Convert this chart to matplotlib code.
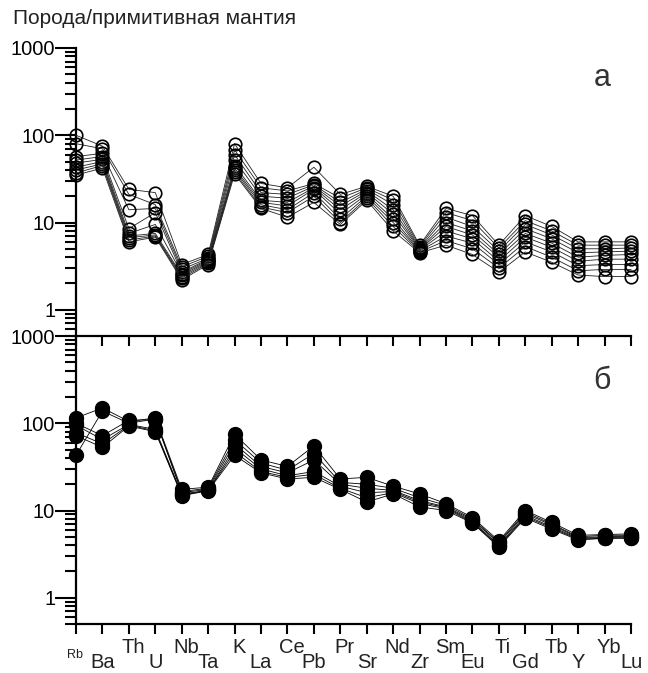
import matplotlib
matplotlib.use("Agg")
import matplotlib.pyplot as plt
from matplotlib.ticker import LogLocator, NullFormatter, FixedLocator

plt.rcParams['font.family'] = ['Liberation Sans', 'DejaVu Sans']

elements = ['Rb', 'Ba', 'Th', 'U', 'Nb', 'Ta', 'K', 'La', 'Ce', 'Pb', 'Pr',
            'Sr', 'Nd', 'Zr', 'Sm', 'Eu', 'Ti', 'Gd', 'Tb', 'Y', 'Yb', 'Lu']

# panel a - open circles, one list per sample
a1 = [100, 75, 24, 22, 3.3, 4.3, 80, 28, 25, 43, 21, 26, 20, 5.5, 14.5, 12, 5.5, 12, 9, 6, 6, 6]
a2 = [80, 70, 21, 16, 3.1, 4.1, 68, 25, 23, 28, 19, 25, 18, 5.3, 13, 10.5, 5.1, 10.5, 8, 5.5, 5.5, 5.5]
a3 = [57, 62, 14, 14.5, 2.9, 3.9, 60, 22, 21, 27, 17, 24, 16, 5.1, 11.5, 9, 4.7, 9.5, 7.2, 5, 5, 5.1]
a4 = [52, 57, 8.5, 13, 2.7, 3.8, 52, 20, 19, 26, 15.5, 23, 14, 5.0, 10, 8, 4.3, 8.5, 6.5, 4.5, 4.6, 4.7]
a5 = [48, 53, 7.5, 9.5, 2.6, 3.7, 45, 18, 17, 25, 14, 22, 12.5, 4.9, 9, 7.2, 4, 7.5, 5.8, 4, 4.2, 4.3]
a6 = [43, 50, 7, 7.5, 2.5, 3.6, 42, 17, 15.5, 24, 12.5, 21, 11, 4.8, 8, 6.5, 3.6, 6.8, 5.2, 3.6, 3.8, 3.8]
a7 = [40, 47, 6.7, 7.2, 2.4, 3.5, 40, 16, 14, 22, 11, 20, 10, 4.7, 7, 5.8, 3.3, 6, 4.6, 3.2, 3.3, 3.3]
a8 = [37, 45, 6.3, 7, 2.3, 3.4, 38, 15, 13, 20, 10, 19, 9, 4.6, 6.2, 5, 3, 5.3, 4, 2.8, 2.9, 2.9]
a9 = [35, 42, 6, 6.8, 2.2, 3.3, 36, 14.5, 11.5, 17, 9.5, 18, 8, 4.5, 5.5, 4.3, 2.7, 4.6, 3.5, 2.5, 2.4, 2.4]

# panel b - filled circles
b1 = [115, 150, 105, 115, 17.5, 18.5, 75, 38, 32, 55, 23, 24, 19, 15.5, 12, 8.3, 4.5, 10, 7.3, 5.2, 5.3, 5.4]
b2 = [43, 138, 100, 112, 16.5, 18, 65, 35, 29, 45, 21, 20, 18, 14, 11.5, 8, 4.3, 9.6, 7, 5.0, 5.2, 5.2]
b3 = [100, 72, 108, 110, 16, 17.5, 58, 32, 27, 38, 20, 18, 17, 13, 11, 7.8, 4.2, 9.2, 6.8, 4.9, 5.0, 5.1]
b4 = [95, 65, 97, 85, 15.5, 17, 52, 30, 25, 28, 19, 16, 16.5, 12.5, 10.8, 7.5, 4.0, 8.8, 6.5, 4.8, 4.9, 5.0]
b5 = [78, 58, 95, 82, 15, 17, 47, 28, 24, 26, 18, 14, 16, 12, 10.5, 7.3, 3.9, 8.5, 6.3, 4.7, 4.8, 4.9]
b6 = [72, 53, 93, 80, 14.8, 16.8, 43, 27, 23, 24, 17.5, 12.5, 15.5, 11, 10, 7.2, 3.8, 8.2, 6.1, 4.6, 4.8, 4.8]

samples_a = [a1, a2, a3, a4, a5, a6, a7, a8, a9]
samples_b = [b1, b2, b3, b4, b5, b6]

x = list(range(len(elements)))

fig = plt.figure(figsize=(6.48, 6.73), dpi=100)
ax1 = fig.add_axes([0.1173, 0.5007, 0.8565, 0.428])
ax2 = fig.add_axes([0.1173, 0.0728, 0.8565, 0.4279])

for s in samples_a:
    ax1.plot(x, s, color='#222222', lw=0.6, marker='o', ms=9, mfc='none',
             mec='black', mew=1.2, clip_on=False, zorder=3)
for s in samples_b:
    ax2.plot(x, s, color='black', lw=0.6, marker='o', ms=10, mfc='black',
             mec='black', clip_on=False, zorder=3)

for ax in (ax1, ax2):
    ax.set_yscale('log')
    ax.set_ylim(0.5, 1000)
    ax.set_xlim(0, 21)
    ax.yaxis.set_major_locator(FixedLocator([1, 10, 100, 1000]))
    ax.yaxis.set_minor_locator(LogLocator(base=10, subs=range(2, 10)))
    ax.yaxis.set_minor_formatter(NullFormatter())
    ax.set_yticklabels(['1', '10', '100', '1000'])
    ax.tick_params(axis='y', which='major', direction='out', length=15, width=1.5,
                   labelsize=14.5, pad=0)
    ax.tick_params(axis='y', which='minor', direction='out', length=8, width=1.5)
    ax.spines['left'].set_linewidth(1.6)
    ax.spines['right'].set_visible(False)

ax1.spines['top'].set_visible(False)
ax1.spines['bottom'].set_visible(False)
ax1.set_xticks([])

ax2.spines['top'].set_visible(False)
ax2.spines['bottom'].set_linewidth(1.6)
ax2.set_xticks(x)
ax2.set_xticklabels([])
ax2.tick_params(axis='x', direction='out', length=7.5, width=1.5)

top = ax2.secondary_xaxis('top')
top.set_xticks(x)
top.set_xticklabels([])
top.tick_params(axis='x', direction='in', length=7.5, width=1.5)
top.spines['top'].set_linewidth(1.6)

# staggered element labels below the axis
for i, el in enumerate(elements):
    if i == 0:
        ax2.annotate(el, (i, 0), xycoords=('data', 'axes fraction'),
                     xytext=(-1, -22), textcoords='offset points',
                     ha='center', va='center', fontsize=9, color='#222222')
    elif i % 2 == 0:
        ax2.annotate(el, (i, 0), xycoords=('data', 'axes fraction'),
                     xytext=(3, -17), textcoords='offset points',
                     ha='center', va='center', fontsize=14.5, color='#222222')
    else:
        ax2.annotate(el, (i, 0), xycoords=('data', 'axes fraction'),
                     xytext=(0, -27.5), textcoords='offset points',
                     ha='center', va='center', fontsize=14.5, color='#222222')

ax1.text(0.948, 0.895, 'а', transform=ax1.transAxes, fontsize=22,
         color='#333333', ha='center', va='center')
ax2.text(0.948, 0.845, 'б', transform=ax2.transAxes, fontsize=22,
         color='#333333', ha='center', va='center')

fig.text(0.02, 0.972, 'Порода/примитивная мантия', fontsize=15,
         color='#222222', ha='left', va='center')

fig.savefig('out.png', dpi=100)
